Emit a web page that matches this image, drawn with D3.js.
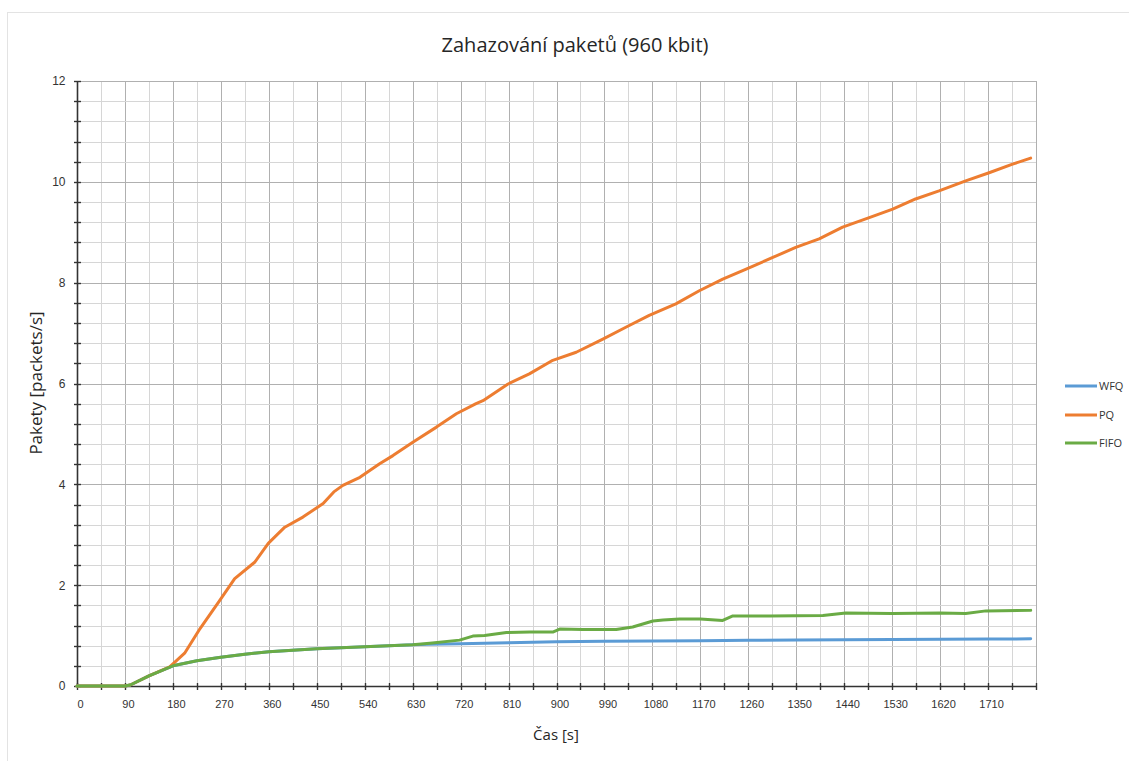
<!DOCTYPE html>
<html>
<head>
<meta charset="utf-8">
<script src="https://cdn.jsdelivr.net/npm/d3@7"></script>
<style>
  html, body { margin: 0; padding: 0; background: #fff; }
  svg { display: block; font-family: "Open Sans", "Noto Sans", sans-serif; }
</style>
</head>
<body>
<svg id="chart" width="1129" height="761"></svg>
<script>
// ---- Data ----
const chartTitle = "Zahazování paketů (960 kbit)";
const xLabel = "Čas [s]";
const yLabel = "Pakety [packets/s]";
const seriesNames = ["WFQ", "PQ", "FIFO"];
const seriesColors = ["#5B9BD5", "#ED7D31", "#6AAB45"];

const xTickValues = [0, 90, 180, 270, 360, 450, 540, 630, 720, 810, 900, 990, 1080, 1170, 1260, 1350, 1440, 1530, 1620, 1710];
const yTickValues = [0, 2, 4, 6, 8, 10, 12];

const wfqTime   = [0, 45, 90, 100, 135, 180, 225, 270, 315, 360, 405, 450, 495, 540, 585, 630, 660, 720, 810, 900, 990, 1080, 1170, 1260, 1350, 1440, 1530, 1620, 1710, 1790];
const wfqValues = [0, 0, 0, 0.02, 0.2, 0.40, 0.50, 0.57, 0.63, 0.68, 0.71, 0.74, 0.76, 0.78, 0.80, 0.82, 0.83, 0.84, 0.86, 0.88, 0.89, 0.895, 0.90, 0.905, 0.91, 0.915, 0.92, 0.925, 0.93, 0.935];

const pqTime   = [0, 45, 90, 100, 135, 174, 202, 231, 268, 296, 334, 359, 390, 424, 462, 482, 499, 531, 568, 593, 631, 674, 712, 749, 762, 809, 849, 893, 937, 987, 1031, 1074, 1124, 1168, 1212, 1256, 1306, 1349, 1393, 1437, 1487, 1531, 1574, 1618, 1668, 1712, 1756, 1790];
const pqValues = [0, 0, 0, 0.02, 0.2, 0.38, 0.65, 1.14, 1.70, 2.13, 2.46, 2.83, 3.15, 3.35, 3.62, 3.85, 3.98, 4.14, 4.41, 4.57, 4.84, 5.13, 5.40, 5.60, 5.66, 5.99, 6.19, 6.46, 6.62, 6.88, 7.12, 7.35, 7.58, 7.84, 8.07, 8.27, 8.50, 8.70, 8.87, 9.10, 9.29, 9.46, 9.66, 9.82, 10.02, 10.18, 10.35, 10.47];

const fifoTime   = [0, 45, 90, 100, 135, 180, 225, 270, 315, 360, 405, 450, 495, 540, 585, 630, 662, 718, 743, 765, 806, 850, 893, 906, 950, 1012, 1043, 1081, 1100, 1131, 1170, 1212, 1231, 1300, 1400, 1443, 1530, 1620, 1668, 1706, 1790];
const fifoValues = [0, 0, 0, 0.02, 0.2, 0.40, 0.50, 0.57, 0.63, 0.68, 0.71, 0.74, 0.76, 0.78, 0.80, 0.82, 0.85, 0.91, 0.99, 1.00, 1.06, 1.07, 1.07, 1.13, 1.12, 1.12, 1.17, 1.29, 1.31, 1.33, 1.33, 1.30, 1.39, 1.39, 1.40, 1.45, 1.44, 1.45, 1.44, 1.49, 1.50];

const seriesTimes = [wfqTime, pqTime, fifoTime];
const seriesValues = [wfqValues, pqValues, fifoValues];

// ---- Layout ----
const svg = d3.select("#chart");
const plotLeft = 77, plotRight = 1036, plotTop = 81, plotBottom = 686;

const x = d3.scaleLinear().domain([0, 1800]).range([plotLeft, plotRight]);
const y = d3.scaleLinear().domain([0, 12]).range([plotBottom, plotTop]);

// outer frame
svg.append("rect").attr("x", 7.5).attr("y", 12.5).attr("width", 1200).attr("height", 800)
  .attr("fill", "none").attr("stroke", "#e3e3e3");

// grid
const xMinor = d3.range(0, 1801, 45);
const yMinor = d3.range(0, 12.01, 0.4).map(v => +v.toFixed(2));
const g = svg.append("g");
g.selectAll(".vx").data(xMinor).join("line")
  .attr("x1", d => Math.round(x(d)) + 0.5).attr("x2", d => Math.round(x(d)) + 0.5)
  .attr("y1", plotTop).attr("y2", plotBottom)
  .attr("stroke", d => (d % 90 === 0) ? "#b0b0b0" : "#d6d6d6").attr("stroke-width", 1);
g.selectAll(".hy").data(yMinor).join("line")
  .attr("y1", d => Math.round(y(d)) + 0.5).attr("y2", d => Math.round(y(d)) + 0.5)
  .attr("x1", plotLeft).attr("x2", plotRight)
  .attr("stroke", d => (Math.abs(d / 2 - Math.round(d / 2)) < 1e-6) ? "#b0b0b0" : "#d6d6d6").attr("stroke-width", 1);

// axes
const yAxis = d3.axisLeft(y).tickValues(yTickValues).tickFormat(d3.format("d")).tickSize(0).tickPadding(12);
const yAx = svg.append("g").attr("transform", `translate(${plotLeft + 0.5},0)`).call(yAxis);
yAx.select(".domain").remove();
yAx.selectAll("text").attr("font-size", 12).attr("fill", "#333");

const xAxis = d3.axisBottom(x).tickValues(xTickValues).tickFormat(d3.format("d")).tickSize(0).tickPadding(14);
const xAx = svg.append("g").attr("transform", `translate(0,${plotBottom + 0.5})`).call(xAxis);
xAx.select(".domain").remove();
xAx.selectAll("text").attr("font-size", 11).attr("fill", "#333").attr("dx", 3);

// axis lines + cross tick marks
svg.append("line").attr("x1", plotLeft + 0.5).attr("x2", plotLeft + 0.5).attr("y1", plotTop).attr("y2", plotBottom)
  .attr("stroke", "#333").attr("stroke-width", 1.6);
svg.append("line").attr("x1", plotLeft).attr("x2", plotRight).attr("y1", plotBottom + 0.5).attr("y2", plotBottom + 0.5)
  .attr("stroke", "#333").attr("stroke-width", 1.6);
svg.append("g").selectAll("line").data(yMinor).join("line")
  .attr("x1", plotLeft - 3).attr("x2", plotLeft + 4)
  .attr("y1", d => Math.round(y(d)) + 0.5).attr("y2", d => Math.round(y(d)) + 0.5)
  .attr("stroke", "#333").attr("stroke-width", 1.4);
svg.append("g").selectAll("line").data(xMinor).join("line")
  .attr("y1", plotBottom - 3).attr("y2", plotBottom + 4)
  .attr("x1", d => Math.round(x(d)) + 0.5).attr("x2", d => Math.round(x(d)) + 0.5)
  .attr("stroke", "#333").attr("stroke-width", 1.4);

// series
const line = d3.line().x(d => x(d[0])).y(d => y(d[1]));
seriesNames.forEach((name, i) => {
  const pts = seriesTimes[i].map((t, k) => [t, seriesValues[i][k]]);
  svg.append("path").datum(pts).attr("d", line)
    .attr("fill", "none").attr("stroke", seriesColors[i]).attr("stroke-width", 3)
    .attr("stroke-linejoin", "round").attr("stroke-linecap", "round");
});

// title & labels
svg.append("text").attr("x", 575).attr("y", 52).attr("text-anchor", "middle")
  .attr("font-size", 20).attr("fill", "#262626").text(chartTitle);
svg.append("text").attr("x", 556).attr("y", 740).attr("text-anchor", "middle")
  .attr("font-size", 15).attr("fill", "#262626").text(xLabel);
svg.append("text").attr("transform", "translate(42,383) rotate(-90)").attr("text-anchor", "middle")
  .attr("font-size", 17).attr("fill", "#262626").text(yLabel);

// legend
const legY = [386, 415, 443];
seriesNames.forEach((name, i) => {
  svg.append("line").attr("x1", 1065).attr("x2", 1097).attr("y1", legY[i]).attr("y2", legY[i])
    .attr("stroke", seriesColors[i]).attr("stroke-width", 3);
  svg.append("text").attr("x", 1099).attr("y", legY[i] + 4).attr("font-size", 11)
    .attr("fill", "#333").text(name);
});
</script>
</body>
</html>
